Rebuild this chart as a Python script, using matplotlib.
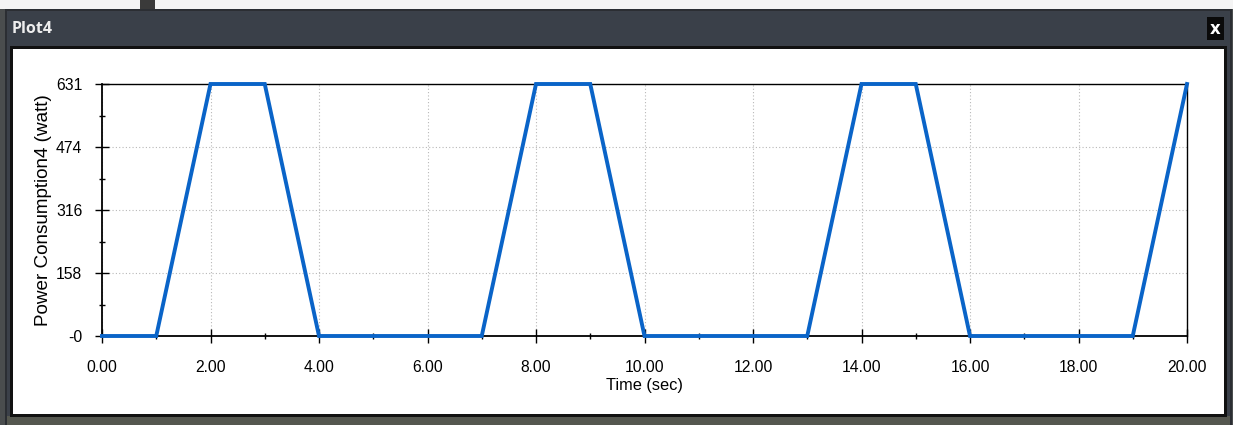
import matplotlib
matplotlib.use("Agg")
import matplotlib.pyplot as plt
from matplotlib.patches import Rectangle

# ---- data ----
time_sec = [0, 1, 2, 3, 4, 7, 8, 9, 10, 13, 14, 15, 16, 19, 20]
power_watt = [0, 0, 631, 631, 0, 0, 631, 631, 0, 0, 631, 631, 0, 0, 631]
x_ticks = [0, 2, 4, 6, 8, 10, 12, 14, 16, 18, 20]
x_tick_labels = ["0.00", "2.00", "4.00", "6.00", "8.00", "10.00", "12.00",
                 "14.00", "16.00", "18.00", "20.00"]
y_ticks = [0, 157.75, 315.5, 473.25, 631]
y_tick_labels = ["-0", "158", "316", "474", "631"]
window_title = "Plot4"
x_label = "Time (sec)"
y_label = "Power Consumption4 (watt)"

plt.rcParams['font.family'] = ['Liberation Sans', 'DejaVu Sans']

W, H = 1233, 425
fig = plt.figure(figsize=(W / 100, H / 100), dpi=100)
fig.patch.set_facecolor('#4a4d4e')

def px_rect(x0, y0, x1, y1, **kw):
    fig.patches.append(Rectangle((x0 / W, 1 - y1 / H), (x1 - x0) / W, (y1 - y0) / H,
                                 transform=fig.transFigure, figure=fig, zorder=-10, **kw))

# outer background / frame
px_rect(0, 0, W, 9, facecolor='#f4f4f4', edgecolor='none')
px_rect(140, 0, 155, 9, facecolor='#3a3a3a', edgecolor='none')
px_rect(5, 9, 1232, 425, facecolor='#2b2e33', edgecolor='none')
px_rect(7, 11, 1230, 421, facecolor='#3b4049', edgecolor='none')
px_rect(8, 12, 1229, 45, facecolor='#3a4049', edgecolor='none')
px_rect(7, 416, 1230, 425, facecolor='#55574f', edgecolor='none')
# panel border and white panel
px_rect(10, 46, 1227, 417, facecolor='#111111', edgecolor='none')
px_rect(13, 49, 1224, 414, facecolor='white', edgecolor='none')
# close button
px_rect(1207, 17, 1224, 40, facecolor='#0a0a0a', edgecolor='none')
fig.text(1215.5 / W, 1 - 29 / H, "x", color='white', fontsize=12, fontweight='bold',
         ha='center', va='center', family=['DejaVu Sans'])
fig.text(12 / W, 1 - 29 / H, window_title, color='#eeeeee', fontsize=11.5, fontweight='bold',
         ha='left', va='center', family=['Open Sans', 'DejaVu Sans'])

ax = fig.add_axes([102 / W, 1 - 336 / H, (1187 - 102) / W, (336 - 84) / H])
ax.set_zorder(5)
ax.set_facecolor('white')
ax.plot(time_sec, power_watt, color='#0a64c8', linewidth=2.8, solid_joinstyle='miter',
        zorder=3, clip_on=False)

ax.set_xlim(0, 20)
ax.set_ylim(0, 631)
ax.set_xticks(x_ticks)
ax.set_xticklabels(x_tick_labels)
ax.set_yticks(y_ticks)
ax.set_yticklabels(y_tick_labels)
ax.set_xticks([1, 3, 5, 7, 9, 11, 13, 15, 17, 19], minor=True)
ax.set_yticks([78.875, 236.625, 394.375, 552.125], minor=True)

ax.tick_params(axis='both', which='major', direction='inout', length=9.4, width=1.0,
               labelsize=11.3, colors='black')
ax.tick_params(axis='both', which='minor', direction='inout', length=4.5, width=1.0)
ax.tick_params(axis='y', which='major', pad=9.5)
ax.tick_params(axis='x', which='major', pad=12.5)

ax.grid(True, which='major', linestyle=(0, (1, 2)), color='#b8b8b8', linewidth=0.8)
for s in ['left', 'bottom', 'top', 'right']:
    ax.spines[s].set_color('black')
    ax.spines[s].set_linewidth(1.0)
ax.spines['left'].set_linewidth(1.3)
ax.spines['bottom'].set_linewidth(1.3)

ax.set_xlabel(x_label, fontsize=11.8, labelpad=2)
ax.set_ylabel(y_label, fontsize=13.6, labelpad=3)

fig.savefig("out.png", dpi=100, facecolor=fig.get_facecolor())
